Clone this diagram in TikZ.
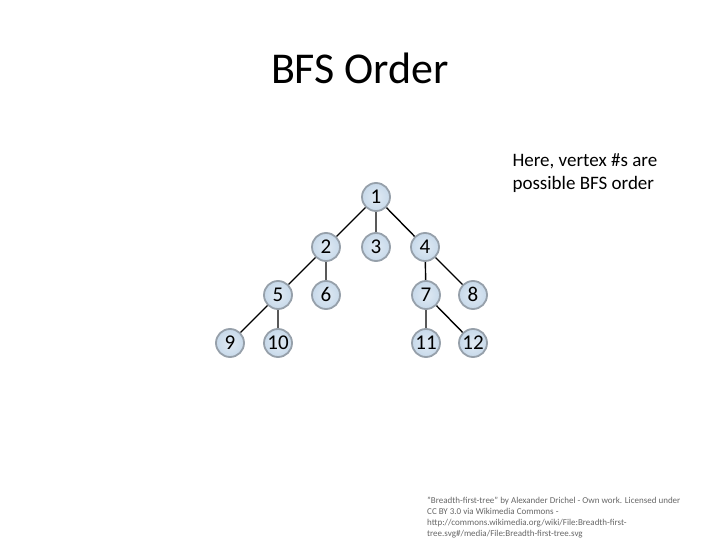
\documentclass[tikz,border=0pt]{standalone}
\usepackage{fontspec}
\setmainfont[Numbers=Lining]{Carlito}
\definecolor{vfill}{RGB}{199,217,234}
\definecolor{vedge}{RGB}{150,160,170}
\tikzset{
  vertex/.style={circle,draw=vedge,line width=1.8pt,inner color=vfill!55!white,outer color=vfill,minimum size=28pt,inner sep=0pt,text height=13pt,text depth=0pt,font=\fontsize{21}{21}\selectfont},
  treeedge/.style={black,line width=1.4pt}
}
\begin{document}
\begin{tikzpicture}[x=1pt,y=-1pt]
\useasboundingbox (0,0) rectangle (720,540);
\node (title) at (360,68) {\fontsize{44}{44}\selectfont BFS Order};
\node[anchor=north west,align=left,font=\fontsize{19}{23.5}\selectfont] (note) at (509,150) {Here, vertex \#s are\\possible BFS order};
\node (v1) at (376,197) {};
\node (v2) at (326,247) {};
\node (v3) at (376,247) {};
\node (v4) at (425,247) {};
\node (v5) at (278,295) {};
\node (v6) at (326,295) {};
\node (v7) at (426,295) {};
\node (v8) at (473,295) {};
\node (v9) at (230,343) {};
\node (v10) at (278,343) {};
\node (v11) at (426,343) {};
\node (v12) at (473,343) {};
\draw[treeedge] (v1)--(v2) (v1)--(v3) (v1)--(v4) (v2)--(v5) (v2)--(v6)
  (v4)--(v7) (v4)--(v8) (v5)--(v9) (v5)--(v10) (v7)--(v11) (v7)--(v12);
\foreach \n in {1,...,12}
  \node[vertex] at (v\n) {\n};
\node[anchor=north west,align=left,font=\fontsize{9}{9}\selectfont,text=black!60,inner sep=0pt] (credit) at (427,497)
  {"Breadth-first-tree" by Alexander Drichel - Own work. Licensed under\\[2pt]
   CC BY 3.0 via Wikimedia Commons -\\[2pt]
   http://commons.wikimedia.org/wiki/File:Breadth-first-\\[2pt]
   tree.svg\#/media/File:Breadth-first-tree.svg};
\end{tikzpicture}
\end{document}
